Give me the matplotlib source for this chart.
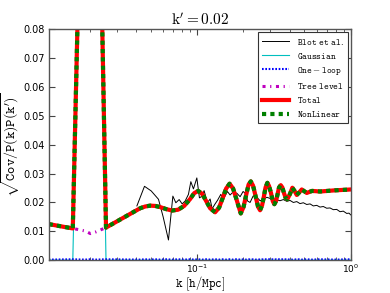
import matplotlib
matplotlib.use("Agg")
import matplotlib.pyplot as plt
from matplotlib.font_manager import FontProperties

# ---------------- data ----------------
k_theory = [0.0108, 0.0155, 0.0187, 0.0202, 0.0219, 0.0255,
            0.04257, 0.04589, 0.04945, 0.0533, 0.05745, 0.06284, 0.06876, 0.07523,
            0.0823, 0.09004, 0.0956, 0.1015, 0.1078, 0.1145, 0.1215, 0.1309,
            0.139, 0.1454, 0.1544, 0.1627, 0.1715, 0.1794, 0.1924, 0.2007,
            0.2084, 0.2163, 0.2236, 0.2314, 0.2402, 0.2494, 0.257, 0.2648,
            0.2708, 0.279, 0.2867, 0.294, 0.303, 0.3108, 0.3183, 0.3265,
            0.3339, 0.3415, 0.3504, 0.3589, 0.3681, 0.3776, 0.3868, 0.4028,
            0.4169, 0.4309, 0.4454, 0.4609, 0.48, 0.5173, 0.5602, 0.6314,
            0.7905, 1.0]

total = [0.0125, 0.0110, 0.2, 0.2, 0.2, 0.0113,
         0.0180, 0.0186, 0.0189, 0.0188, 0.0184, 0.0177, 0.0172, 0.0175,
         0.0188, 0.0212, 0.0232, 0.0240, 0.0230, 0.0205, 0.0180, 0.0166,
         0.0182, 0.0210, 0.0248, 0.0265, 0.0248, 0.0215, 0.0162, 0.0185,
         0.0225, 0.0262, 0.0273, 0.0258, 0.0222, 0.0185, 0.0173, 0.0190,
         0.0215, 0.0252, 0.0268, 0.0257, 0.0232, 0.0205, 0.0194, 0.0205,
         0.0228, 0.0252, 0.0260, 0.0252, 0.0232, 0.0215, 0.0211, 0.0230,
         0.0251, 0.0240, 0.0226, 0.0234, 0.0245, 0.0233, 0.0240, 0.0238,
         0.0242, 0.0245]

nonlinear = list(total)

tree_level = [0.0125, 0.0110, 0.0101, 0.0092, 0.0098, 0.0113] + total[6:]

gaussian = [0.0, 0.0, 0.2, 0.2, 0.2, 0.0] + [0.0] * (len(k_theory) - 6)

one_loop = [0.0002, 0.0003, 0.0002, 0.0003, 0.0002, 0.0003,
            0.0002, 0.0003, 0.0002, 0.0003, 0.0002, 0.0003, 0.0002, 0.0003,
            0.0002, 0.0003, 0.0002, 0.0003, 0.0002, 0.0003, 0.0002, 0.0003,
            0.0002, 0.0003, 0.0002, 0.0003, 0.0002, 0.0003, 0.0002, 0.0003,
            0.0002, 0.0003, 0.0002, 0.0003, 0.0002, 0.0003, 0.0002, 0.0003,
            0.0002, 0.0003, 0.0002, 0.0003, 0.0002, 0.0003, 0.0002, 0.0003,
            0.0002, 0.0003, 0.0002, 0.0003, 0.0002, 0.0003, 0.0002, 0.0003,
            0.0002, 0.0003, 0.0002, 0.0003, 0.0002, 0.0003, 0.0002, 0.0003,
            0.0002, 0.0003]

k_blot = [0.04052, 0.04541, 0.05021, 0.05602, 0.06008, 0.06505, 0.06949,
          0.07266, 0.07637, 0.07988, 0.08354, 0.08778, 0.09099, 0.09461,
          0.09954, 0.1035, 0.1078, 0.1110, 0.1167, 0.1215, 0.1252, 0.1309,
          0.1356, 0.1426, 0.1483, 0.1574, 0.1639, 0.1715, 0.1813, 0.1905,
          0.1992, 0.2053, 0.2131, 0.2212, 0.2314, 0.2446, 0.2570, 0.2700,
          0.2841, 0.2985, 0.3136, 0.3299, 0.3467, 0.3643, 0.3834, 0.4028,
          0.4233, 0.4454, 0.4678, 0.4915, 0.5173, 0.5436, 0.5711, 0.6009,
          0.6314, 0.6633, 0.6980, 0.7333, 0.7705, 0.8108, 0.8520, 0.8950,
          0.9419, 0.9748, 1.0]

blot = [0.0188, 0.0256, 0.0240, 0.0211, 0.0150, 0.0070, 0.0222,
        0.0199, 0.0210, 0.0195, 0.0205, 0.0228, 0.0272, 0.0247,
        0.0285, 0.0216, 0.0222, 0.0241, 0.0199, 0.0212, 0.0178, 0.0195,
        0.0207, 0.0228, 0.0211, 0.0238, 0.0226, 0.0236, 0.0232, 0.0220,
        0.0238, 0.0232, 0.0205, 0.0200, 0.0222, 0.0218, 0.0206, 0.0210,
        0.0218, 0.0214, 0.0205, 0.0209, 0.0206, 0.0210, 0.0204, 0.0207,
        0.0200, 0.0203, 0.0196, 0.0199, 0.0193, 0.0195, 0.0188, 0.0190,
        0.0184, 0.0186, 0.0180, 0.0181, 0.0175, 0.0176, 0.0168, 0.0170,
        0.0162, 0.0163, 0.0157]

title_text = r"$\mathrm{k^{\prime}=0.02}$"
xlabel_text = r"$\mathtt{k\ [h/Mpc]}$"
ylabel_text = r"$\sqrt{\mathtt{Cov/P(k)P(k^{\prime})}}$"
legend_labels = [r"$\mathtt{Blot\ et\ al.}$", r"$\mathtt{Gaussian}$",
                 r"$\mathtt{One-loop}$", r"$\mathtt{Tree\ level}$",
                 r"$\mathtt{Total}$", r"$\mathtt{NonLinear}$"]

# ---------------- plot ----------------
plt.rcParams['mathtext.fontset'] = 'dejavusans'
fig = plt.figure(figsize=(3.9, 2.93), dpi=100)
ax = fig.add_axes([0.1249, 0.112, 0.7743, 0.788])

ax.plot(k_blot, blot, color='k', lw=0.7, label=legend_labels[0])
ax.plot(k_theory, gaussian, color='c', lw=0.8, label=legend_labels[1])
ax.plot(k_theory, one_loop, color='b', lw=1.5, dashes=(0.8, 0.8),
        label=legend_labels[2])
ax.plot(k_theory, tree_level, color='m', lw=2.2, dashes=(1.0, 1.5, 0.4, 1.5),
        label=legend_labels[3])
ax.plot(k_theory, total, color='r', ls='-', lw=3, label=legend_labels[4])
ax.plot(k_theory, nonlinear, color='g', ls='--', dashes=(1, 1), lw=3,
        label=legend_labels[5])

ax.set_xscale('log')
ax.set_xlim(0.0108, 1.0)
ax.set_ylim(0.0, 0.08)
ax.set_yticks([0.0, 0.01, 0.02, 0.03, 0.04, 0.05, 0.06, 0.07, 0.08])
ax.yaxis.set_major_formatter(matplotlib.ticker.FormatStrFormatter('%.2f'))
ax.tick_params(which='both', direction='in', top=True, right=True,
               labelsize=7, color='#444444')
ax.tick_params(axis='x', labelsize=6.5)
ax.tick_params(which='major', length=4)
ax.tick_params(axis='x', which='major', pad=1.5)
ax.tick_params(axis='y', which='major', pad=3)
ax.tick_params(which='minor', length=2)
for s in ax.spines.values():
    s.set_color('#555555')
    s.set_linewidth(1.0)

ax.set_title(title_text, fontsize=11, math_fontfamily='cm', pad=3)
ax.set_xlabel(xlabel_text, fontsize=9, math_fontfamily='cm')
ax.xaxis.label.set_verticalalignment('bottom')
ax.xaxis.set_label_coords(0.5, -0.142)
ax.set_ylabel(ylabel_text, fontsize=10, math_fontfamily='cm', labelpad=1)

leg = ax.legend(loc='upper right', prop=FontProperties(size=6.5, math_fontfamily='cm'),
                fancybox=False, framealpha=1, edgecolor='#333333',
                handlelength=3, borderaxespad=0.3, labelspacing=0.45,
                handletextpad=0.8, borderpad=0.5)
leg.get_frame().set_linewidth(0.8)

fig.savefig('out.png', dpi=100, facecolor='white')
